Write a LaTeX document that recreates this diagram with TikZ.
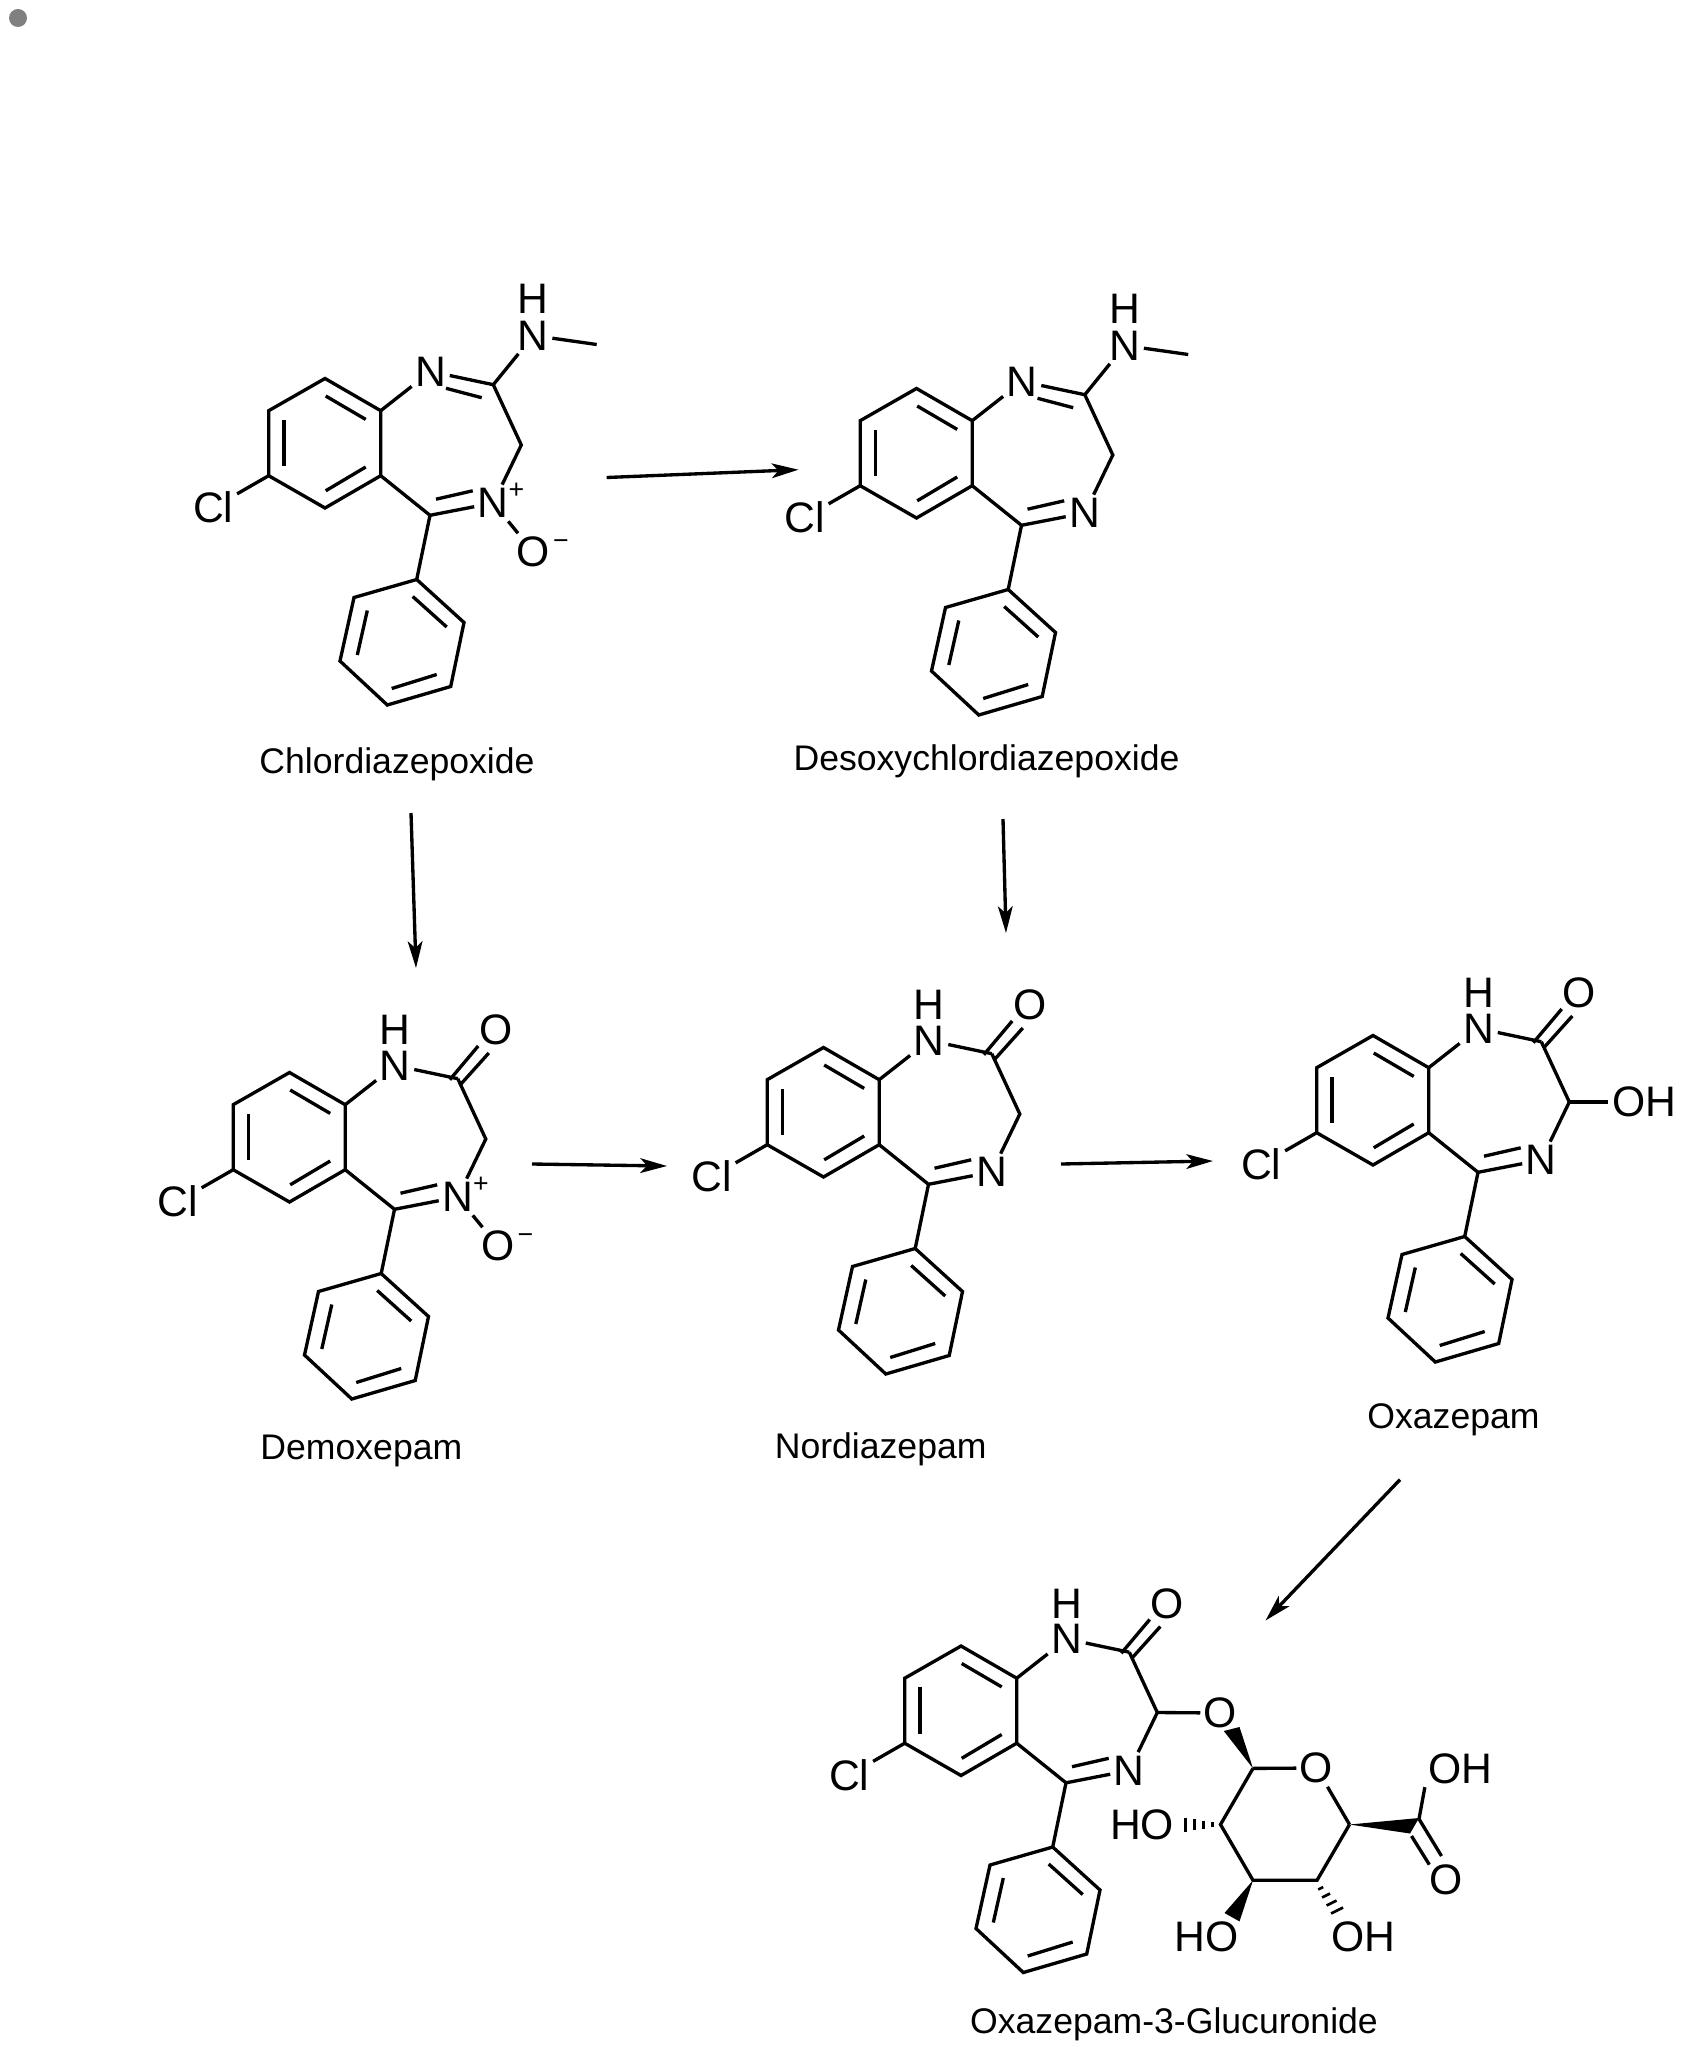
\documentclass[tikz,border=0pt]{standalone}
\usepackage{fontspec}
\setmainfont{Liberation Sans}
\usetikzlibrary{arrows.meta}

\tikzset{every picture/.style={line width=2.5pt},
	atom/.style={inner sep=1.5pt,font=\fontsize{32}{34}\selectfont},
	charge/.style={inner sep=0pt,font=\fontsize{20}{22}\selectfont},
	caption/.style={inner sep=0pt,font=\fontsize{26.7}{30}\selectfont},
	react/.style={-{Stealth[length=20pt,width=11pt,inset=5pt]}}}

% benzene, chlorine, seven ring atoms and phenyl, same in all molecules
\newcommand{\benzocore}{
	%Shape: Benzene
	\coordinate (ba) at (325,378.5);
	\coordinate (bb) at (268.7,410.7);
	\coordinate (bc) at (268.7,475.7);
	\coordinate (bd) at (325,508);
	\coordinate (be) at (380.7,475.7);
	\coordinate (bf) at (380.7,410.7);
	\draw (ba) -- (bb) -- (bc) -- (bd) -- (be) -- (bf) -- cycle;
	\draw (325.7,396) -- (365.7,419.4);
	\draw (284,419.8) -- (284,466);
	\draw (325.7,490.8) -- (365.7,467);
	% Text Node
	\node[atom] (cl) at (213.3,507.5) {Cl};
	\draw (bc) -- (cl);
	%Shape: Seven ring
	\node[atom] (nu) at (430.7,371.5) {N};
	\node[atom] (nd) at (493.3,503) {N};
	\coordinate (ctwo) at (493.3,384.7);
	\coordinate (cthree) at (521.3,445);
	\coordinate (cfive) at (430,515.3);
	\draw (bf) -- (nu);
	\draw (ctwo) -- (cthree) -- (nd);
	\draw (be) -- (cfive) -- (nd);
	\draw (436,499.2) -- (472.7,490.8);
	%Shape: Phenyl
	\coordinate (pa) at (416.7,579.5);
	\coordinate (pb) at (464,622.5);
	\coordinate (pc) at (450.7,686.5);
	\coordinate (pd) at (387.3,705);
	\coordinate (pe) at (340,661);
	\coordinate (pf) at (354,597.5);
	\draw (cfive) -- (pa);
	\draw (pa) -- (pb) -- (pc) -- (pd) -- (pe) -- (pf) -- cycle;
	\draw (412.7,596.5) -- (446.7,627);
	\draw (391.7,688.5) -- (436.7,674.5);
	\draw (357.3,655) -- (367.3,610.5);
}
% C=N and the methylamino group
\newcommand{\amidine}{
	\draw (ctwo) -- (nu);
	\draw (446,388.3) -- (481.7,397.7);
	\node[atom] (nme) at (533.3,335.5) {N};
	\node[atom] (hme) at (533.3,298.5) {H};
	\coordinate (me) at (596.7,344.5);
	\draw (ctwo) -- (nme);
	\draw (nme) -- (me);
}
% N-H and C=O
\newcommand{\lactam}{
	\node[atom] (hn) at (430.7,336) {H};
	\node[atom] (ox) at (531.5,336) {O};
	\draw (nu) -- (ctwo);
	\draw (485.3,385.7) -- (513.7,352);
	\draw (495.3,391.3) -- (524.3,359);
}
% N+ and O-
\newcommand{\noxide}{
	\node[charge] (pl) at (516.5,491) {+};
	\node[atom] (oneg) at (533.3,552) {O};
	\node[charge] (mi) at (561,545) {−};
	\draw (nd) -- (oneg);
}

\begin{document}
\begin{tikzpicture}[x=0.75pt,y=0.75pt,yscale=-1,xscale=1]
	\useasboundingbox (0,0) rectangle (1683,2048);

	%Shape: Circle [dot]
	\fill[gray] (18,18) circle (9);

	%Chlordiazepoxide
	\begin{scope}[name prefix=chl-]
		\benzocore
		\amidine
		\noxide
	\end{scope}
	%Desoxychlordiazepoxide
	\begin{scope}[shift={(591.5,10)},name prefix=des-]
		\benzocore
		\amidine
	\end{scope}
	%Demoxepam
	\begin{scope}[shift={(-35.5,694)},name prefix=dem-]
		\benzocore
		\lactam
		\noxide
	\end{scope}
	%Nordiazepam
	\begin{scope}[shift={(498.5,669)},name prefix=nor-]
		\benzocore
		\lactam
	\end{scope}
	%Oxazepam
	\begin{scope}[shift={(1048,657)},name prefix=oxa-]
		\benzocore
		\lactam
		\node[atom] (oh) at (596,445) {OH};
		\draw (cthree) -- (oh);
	\end{scope}
	%Oxazepam-3-Glucuronide
	\begin{scope}[shift={(636,1267.5)},name prefix=glu-]
		\benzocore
		\lactam
	\end{scope}

	%Shape: Sugar ring
	\node[atom] (olink) at (1220.5,1713) {O};
	\node[atom] (oring) at (1316.5,1768) {O};
	\coordinate (sa) at (1253,1768.4);
	\coordinate (sb) at (1220.5,1824.5);
	\coordinate (sc) at (1253,1880.3);
	\coordinate (sd) at (1317,1880.3);
	\coordinate (se) at (1349.5,1824.5);
	\coordinate (cooh) at (1419,1819);
	\draw (glu-cthree) -- (olink);
	\draw (sa) -- (oring);
	\draw (oring) -- (se);
	\draw (sa) -- (sb) -- (sc) -- (sd) -- (se);

	% Text Node
	\node[atom] (hoa) at (1142,1824.5) {HO};
	% Text Node
	\node[atom] (hob) at (1206.5,1936.4) {HO};
	% Text Node
	\node[atom] (ohc) at (1363,1936.4) {OH};
	% Text Node
	\node[atom] (ohd) at (1460.5,1768.4) {OH};
	% Text Node
	\node[atom] (oco) at (1446,1880) {O};

	%Shape: Wedges
	\fill (sa) -- (1239.5,1727) -- (1223.8,1731) -- cycle;
	\fill (sc) -- (1239.5,1921.4) -- (1224.5,1913) -- cycle;
	\fill (se) -- (1419,1818) -- (1410,1833.5) -- cycle;
	%Straight Lines [hashed]
	\draw[line width=2pt] (1212.5,1822) -- (1212.5,1827);
	\draw[line width=2pt] (1203.5,1820.5) -- (1203.5,1828.5);
	\draw[line width=2pt] (1194.5,1819) -- (1194.5,1830);
	\draw[line width=2pt] (1185.5,1817.5) -- (1185.5,1831.5);
	\draw[line width=2pt] (1318.2,1889.5) -- (1323.2,1887);
	\draw[line width=2pt] (1322,1897.5) -- (1330,1893.5);
	\draw[line width=2pt] (1326.5,1905.5) -- (1336.5,1900.5);
	\draw[line width=2pt] (1331,1913.5) -- (1343,1907.5);
	%Straight Lines [carboxyl]
	\draw (cooh) -- (ohd.south west);
	\draw (cooh) -- (1441.5,1856);
	\draw (1411.5,1836) -- (1429.3,1864.6);

	% Text Node
	\node[caption] (capchl) at (397,764.5) {Chlordiazepoxide};
	% Text Node
	\node[caption] (capdes) at (986.5,761.5) {Desoxychlordiazepoxide};
	% Text Node
	\node[caption] (capdem) at (361.4,1450.5) {Demoxepam};
	% Text Node
	\node[caption] (capnor) at (880.7,1449) {Nordiazepam};
	% Text Node
	\node[caption] (capoxa) at (1453.5,1420) {Oxazepam};
	% Text Node
	\node[caption] (capglu) at (1174,2024) {Oxazepam-3-Glucuronide};

	%Straight Lines [arrows]
	\coordinate (arrasta) at (606.7,477.5);
	\coordinate (arraend) at (798.5,469.7);
	\coordinate (arrbsta) at (411,813);
	\coordinate (arrbend) at (416,968);
	\coordinate (arrcsta) at (1003,819);
	\coordinate (arrcend) at (1006,933);
	\coordinate (arrdsta) at (532,1164);
	\coordinate (arrdend) at (667,1166);
	\coordinate (arresta) at (1061,1164);
	\coordinate (arreend) at (1213,1161);
	\coordinate (arrfsta) at (1400,1479.6);
	\coordinate (arrfend) at (1265.5,1620.5);
	\draw[react] (arrasta) -- (arraend);
	\draw[react] (arrbsta) -- (arrbend);
	\draw[react] (arrcsta) -- (arrcend);
	\draw[react] (arrdsta) -- (arrdend);
	\draw[react] (arresta) -- (arreend);
	\draw[react] (arrfsta) -- (arrfend);
\end{tikzpicture}
\end{document}
